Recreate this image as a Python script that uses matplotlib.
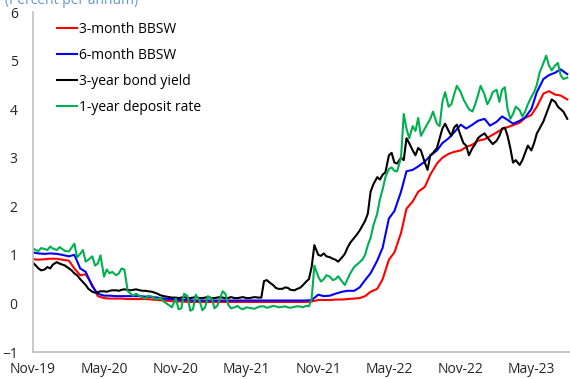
import matplotlib
matplotlib.use("Agg")
import matplotlib.pyplot as plt
import matplotlib.dates as mdates
import pandas as pd

# semi-monthly observation dates, Nov-2019 .. Aug-2023
dates = pd.date_range("2019-11-01", "2023-08-01", freq="SMS")
# in-between (roughly weekly) observations for the noisier series
dates_mid = dates[:-1] + pd.Timedelta(days=7)

bbsw_3m = [0.91, 0.90, 0.91, 0.92, 0.92, 0.90, 0.88, 0.72, 0.58, 0.60,
           0.38, 0.15, 0.11, 0.10, 0.10, 0.10, 0.09, 0.09, 0.09, 0.09,
           0.08, 0.07, 0.06, 0.05, 0.04, 0.04, 0.03, 0.03, 0.03, 0.03,
           0.03, 0.03, 0.03, 0.03, 0.03, 0.03, 0.03, 0.03, 0.03, 0.03,
           0.03, 0.03, 0.03, 0.03, 0.03, 0.03, 0.03, 0.04, 0.07, 0.07,
           0.07, 0.08, 0.08, 0.09, 0.10, 0.11, 0.15, 0.24, 0.30, 0.50,
           0.90, 1.05, 1.45, 1.95, 2.10, 2.30, 2.40, 2.65, 2.88, 3.00,
           3.08, 3.12, 3.15, 3.22, 3.27, 3.35, 3.38, 3.44, 3.52, 3.59,
           3.63, 3.67, 3.72, 3.82, 3.88, 4.05, 4.32, 4.37, 4.30, 4.28,
           4.20]

bbsw_6m = [1.05, 1.03, 1.02, 1.03, 1.02, 1.00, 0.97, 1.00, 0.72, 0.65,
           0.35, 0.20, 0.16, 0.16, 0.15, 0.15, 0.15, 0.15, 0.15, 0.14,
           0.13, 0.12, 0.10, 0.09, 0.08, 0.07, 0.07, 0.06, 0.06, 0.06,
           0.06, 0.06, 0.06, 0.06, 0.06, 0.06, 0.06, 0.06, 0.06, 0.06,
           0.06, 0.06, 0.06, 0.06, 0.06, 0.06, 0.06, 0.07, 0.18, 0.15,
           0.16, 0.20, 0.24, 0.26, 0.26, 0.33, 0.48, 0.62, 0.88, 1.15,
           1.75, 1.90, 2.30, 2.72, 2.75, 2.82, 2.92, 3.04, 3.15, 3.30,
           3.40, 3.52, 3.68, 3.60, 3.68, 3.76, 3.80, 3.66, 3.74, 3.85,
           3.78, 3.70, 3.76, 3.83, 4.00, 4.35, 4.62, 4.70, 4.75, 4.82,
           4.72]

bond_3y = [0.84, 0.72, 0.70, 0.72, 0.85, 0.80, 0.72, 0.62, 0.50, 0.38,
           0.24, 0.23, 0.25, 0.26, 0.27, 0.28, 0.28, 0.28, 0.27, 0.26,
           0.24, 0.20, 0.15, 0.13, 0.12, 0.12, 0.11, 0.12, 0.11, 0.12,
           0.11, 0.12, 0.12, 0.11, 0.11, 0.12, 0.11, 0.12, 0.12, 0.46,
           0.42, 0.32, 0.30, 0.32, 0.27, 0.32, 0.45, 0.75, 1.00, 1.03,
           0.95, 0.90, 0.95, 1.15, 1.35, 1.50, 1.70, 2.30, 2.60, 2.65,
           3.05, 2.90, 3.00, 3.40, 3.15, 3.20, 2.90, 3.05, 3.20, 3.60,
           3.55, 3.62, 3.45, 3.25, 3.20, 3.40, 3.50, 3.35, 3.35, 3.60,
           3.45, 2.90, 2.85, 3.10, 3.15, 3.50, 3.75, 4.05, 4.15, 4.00,
           3.80]
bond_3y_mid = [0.78, 0.68, 0.75, 0.80, 0.82, 0.78, 0.68, 0.58, 0.44, 0.30,
               0.22, 0.25, 0.24, 0.27, 0.26, 0.29, 0.27, 0.29, 0.26, 0.25,
               0.22, 0.17, 0.14, 0.12, 0.11, 0.13, 0.11, 0.13, 0.11, 0.13,
               0.11, 0.13, 0.11, 0.13, 0.11, 0.13, 0.11, 0.13, 0.12, 0.48,
               0.38, 0.30, 0.33, 0.28, 0.30, 0.37, 0.50, 1.20, 0.98, 0.97,
               0.92, 0.86, 1.02, 1.25, 1.42, 1.60, 1.85, 2.45, 2.55, 2.70,
               3.10, 2.88, 2.95, 3.30, 3.05, 3.15, 2.75, 3.10, 3.40, 3.70,
               3.45, 3.68, 3.30, 3.05, 3.28, 3.45, 3.42, 3.28, 3.45, 3.62,
               3.20, 2.95, 2.95, 3.25, 3.30, 3.60, 3.90, 4.20, 4.05, 3.95]

deposit_1y = [1.13, 1.08, 1.12, 1.17, 1.10, 1.12, 1.07, 1.23, 1.02, 0.86,
              0.97, 0.82, 0.55, 0.62, 0.58, 0.72, 0.25, 0.16, 0.15, 0.10,
              0.14, 0.08, 0.04, -0.04, 0.10, -0.10, 0.15, -0.12, 0.05, -0.08,
              0.10, -0.05, 0.25, -0.02, -0.08, -0.10, -0.08, -0.10, -0.07, -0.06,
              -0.07, -0.06, -0.07, -0.08, -0.07, -0.06, -0.05, 0.10, 0.55, 0.50,
              0.55, 0.50, 0.45, 0.50, 0.75, 0.85, 1.00, 1.35, 1.85, 2.35,
              2.77, 2.73, 3.00, 3.60, 3.65, 3.82, 3.60, 3.80, 3.70, 4.15,
              4.05, 4.30, 4.35, 4.10, 3.95, 4.28, 4.30, 4.20, 4.40, 4.40,
              4.00, 3.90, 3.98, 3.95, 4.25, 4.50, 4.95, 4.90, 4.90, 4.70,
              4.65]
deposit_1y_mid = [1.10, 1.14, 1.10, 1.13, 1.16, 1.08, 1.15, 0.95, 1.10, 0.90,
                  0.78, 0.99, 0.70, 0.65, 0.62, 0.70, 0.20, 0.20, 0.12, 0.16,
                  0.10, 0.12, 0.00, -0.08, -0.12, 0.20, -0.15, 0.18, -0.14, 0.15,
                  -0.10, 0.10, 0.20, -0.10, -0.05, -0.12, -0.09, -0.11, -0.06, -0.09,
                  -0.05, -0.08, -0.06, -0.09, -0.06, -0.08, -0.06, 0.78, 0.45, 0.58,
                  0.48, 0.56, 0.38, 0.62, 0.80, 0.90, 1.20, 1.60, 2.15, 2.60,
                  2.80, 2.72, 3.90, 3.40, 3.55, 3.45, 3.70, 3.95, 3.65, 4.35,
                  4.10, 4.48, 4.20, 4.00, 4.10, 4.48, 4.10, 4.35, 4.15, 4.45,
                  3.80, 4.05, 3.85, 4.10, 4.35, 4.75, 5.10, 4.80, 4.95, 4.62]

series_labels = ["3-month BBSW", "6-month BBSW", "3-year bond yield", "1-year deposit rate"]
series_colors = ["#FF0000", "#0000FF", "#000000", "#00B050"]
y_ticks = [-1, 0, 1, 2, 3, 4, 5, 6]
x_ticks = pd.date_range("2019-11-01", "2023-05-01", freq="6MS")


def combined(main_vals, mid_vals=None):
    s = pd.Series(main_vals, index=dates)
    if mid_vals is not None:
        s = pd.concat([s, pd.Series(mid_vals, index=dates_mid)]).sort_index()
    return s


plt.rcParams["font.family"] = ["Open Sans", "DejaVu Sans"]

fig = plt.figure(figsize=(5.70, 3.79), dpi=100)
ax = fig.add_axes([33 / 570, 1 - 352 / 379, 1 - 33 / 570, 340 / 379])

all_series = [combined(bbsw_3m), combined(bbsw_6m),
              combined(bond_3y, bond_3y_mid), combined(deposit_1y, deposit_1y_mid)]
for s, lab, col in zip(all_series, series_labels, series_colors):
    ax.plot(s.index, s.values, color=col, lw=1.5, label=lab)

ax.set_ylim(-1, 6)
ax.set_yticks(y_ticks)
ax.set_xlim(pd.Timestamp("2019-11-01"), pd.Timestamp("2023-08-08"))
ax.set_xticks(x_ticks)
ax.xaxis.set_major_formatter(mdates.DateFormatter("%b-%y"))

for sp in ["top", "right"]:
    ax.spines[sp].set_visible(False)
for sp in ["left", "bottom"]:
    ax.spines[sp].set_color("#BFBFBF")
    ax.spines[sp].set_linewidth(1.2)
ax.tick_params(axis="both", length=0, labelsize=10, colors="#262626")
ax.tick_params(axis="y", pad=11)
ax.tick_params(axis="x", pad=7)

ax.legend(loc="upper left", bbox_to_anchor=(0.045, 0.97), frameon=False,
          fontsize=10, handlelength=1.45, handletextpad=0.1, labelspacing=0.78,
          borderaxespad=0, borderpad=0)

fig.text(0.008, 1 - 4 / 379, "(Percent per annum)", color="#5B9BD5", fontsize=10, va="baseline")

fig.savefig("out.png", dpi=100)
